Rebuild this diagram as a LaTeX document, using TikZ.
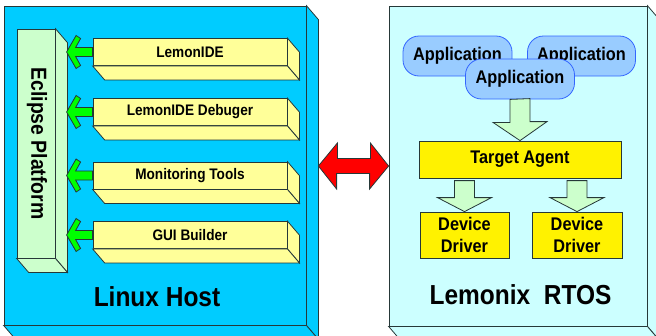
\documentclass[tikz,border=0pt]{standalone}
\usepackage{fontspec}
\setmainfont[FakeStretch=0.89]{Liberation Sans}
\usetikzlibrary{calc}

\definecolor{hostblue}{HTML}{00CCFF}
\definecolor{rtoscyan}{HTML}{CCFFFF}
\definecolor{palegreen}{HTML}{CCFFCC}
\definecolor{paleyellow}{HTML}{FFFF99}
\definecolor{appblue}{HTML}{99CCFF}
\definecolor{appedge}{HTML}{3366FF}
\definecolor{edge}{HTML}{263838}

\begin{document}
\begin{tikzpicture}[x=1pt,y=-1pt,
  face/.style={draw=edge,line width=0.8pt,inner sep=0pt},
  tool/.style={face,fill=paleyellow,minimum width=194pt,minimum height=27pt,
    font=\bfseries\fontsize{15.3}{18}\selectfont},
  app/.style={draw=appedge,line width=0.8pt,fill=appblue,rounded corners=16pt,
    minimum width=109pt,minimum height=40pt,font=\bfseries\fontsize{18.3}{21}\selectfont},
  agent/.style={face,fill=yellow,font=\bfseries\fontsize{18.3}{22}\selectfont,align=center},
  greenarrow/.style={draw=edge,line width=0.8pt,fill=green},
  hollowarrow/.style={draw=edge,line width=0.8pt,fill=palegreen},
  redarrow/.style={draw=edge,line width=0.8pt,fill=red},
  title/.style={font=\bfseries\fontsize{27.5}{32}\selectfont}]
\useasboundingbox (0,0) rectangle (656,335);

% linux host side
\node[face,fill=hostblue,minimum width=302pt,minimum height=319pt] (linux) at (155,165.5) {};
\node[face,fill=palegreen,minimum width=38pt,minimum height=229pt] (eclipse) at (36,143.5) {};
\node[tool] (ide) at (190,52) {LemonIDE};
\node[tool] (debug) at (190,112) {LemonIDE Debuger};
\node[tool] (monitor) at (190,175.5) {Monitoring Tools};
\node[tool] (gui) at (190,235) {GUI Builder};

% rtos side
\node[face,fill=rtoscyan,minimum width=258pt,minimum height=320pt] (rtos) at (518,166) {};

% extruded faces
\foreach \n/\c in {linux/hostblue,eclipse/palegreen,rtos/rtoscyan,ide/paleyellow,debug/paleyellow,monitor/paleyellow,gui/paleyellow} {
  \draw[face,fill=\c] (\n.north east) -- ++(12,14) -- ($(\n.south east)+(12,14)$) -- (\n.south east) -- cycle;
  \draw[face,fill=\c] (\n.south west) -- ++(12,14) -- ($(\n.south east)+(12,14)$) -- (\n.south east) -- cycle;
}

\node[rotate=-90,font=\bfseries\fontsize{21.8}{25}\selectfont] (eclipsetext) at ($(eclipse.center)+(1,0)$) {Eclipse Platform};

% tools to eclipse
\foreach \n in {ide,debug,monitor,gui}
  \draw[greenarrow] ($(\n.west)+(0,-4.5)$) -- ++(-17,0) -- ++(5,-9) -- ++(-4.5,-3) -- ++(-9.5,16.5)
    -- ++(9.5,16.5) -- ++(4.5,-3) -- ++(-5,-9) -- ++(17,0) -- cycle;

\node[title] (linuxtext) at (157,297) {Linux Host};

% applications
\node[app] (app1) at (457.5,56) {Application};
\node[app,minimum width=108pt] (app2) at (581.5,56) {Application};
\node[app] (app3) at (520,79) {Application};

\node[agent,minimum width=202pt,minimum height=37pt] (target) at (520,159.5) {Target Agent};
\node[agent,minimum width=89pt,minimum height=46pt] (drvl) at (464.5,235) {Device\\Driver};
\node[agent,minimum width=90pt,minimum height=46pt] (drvr) at (577,235) {Device\\Driver};

\draw[hollowarrow] ($(app3.south)+(-10,0)$) -- ++(0,23) -- ++(-17,0) -- (target.north)
  -- ++(27,-19) -- ++(-17,0) -- ++(0,-23) -- cycle;
\foreach \n in {drvl,drvr}
  \draw[hollowarrow] ($(\n.north)+(-10,-31)$) -- ++(0,17) -- ++(-17,0) -- (\n.north)
    -- ++(27,-14) -- ++(-17,0) -- ++(0,-17) -- cycle;

\node[title] (rtostext) at (520.5,294.5) {Lemonix~~RTOS};

% host <-> target
\coordinate (hostedge) at ($(linux.east)+(12,0.5)$);
\draw[redarrow] (hostedge) -- ++(19,-23) -- ++(0,15.5) -- ++(33,0) -- ++(0,-15.5) -- (rtos.west)
  -- ++(-19,23) -- ++(0,-15.5) -- ++(-33,0) -- ++(0,15.5) -- cycle;
\end{tikzpicture}
\end{document}
